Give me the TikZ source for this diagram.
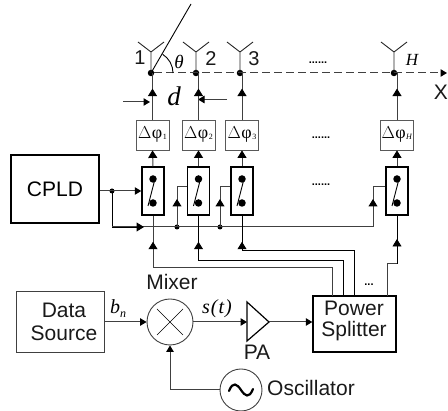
\documentclass[tikz,border=0pt]{standalone}
\usepackage{fontspec}
\setmainfont{Liberation Sans}
\newfontfamily\serifface{Liberation Serif}
\usetikzlibrary{arrows.meta,decorations.markings,calc}
\definecolor{wire}{HTML}{404040}
\tikzset{
  x=1pt,y=-1pt,
  lab/.style={inner sep=0pt,font=\fontsize{21}{21}\selectfont,text=black!90},
  mathlab/.style={inner sep=0pt,font=\fontsize{20}{20}\selectfont\serifface\itshape},
  wireline/.style={draw=wire,line width=1pt},
  blackline/.style={draw=black,line width=.9pt},
  head/.style={-{Triangle[length=6.5pt,width=7.5pt,color=black]}},
  bighead/.style={-{Triangle[length=7.5pt,width=9pt,color=black]}},
  midhead/.style={postaction={decorate},decoration={markings,mark=at position #1 with {\arrow{Triangle[length=7.5pt,width=9pt,color=black]}}}},
  dot/.style={circle,fill=black,inner sep=0pt,minimum size=#1},
  switchbox/.style={draw=black,line width=1.5pt,minimum width=22pt,minimum height=48pt,inner sep=0pt},
  phibox/.style={draw=black!65,line width=.8pt,minimum width=33pt,minimum height=30pt,inner sep=0pt,font=\fontsize{16}{16}\selectfont\serifface},
  blockthin/.style={draw=wire,line width=.9pt,inner sep=0pt},
  blockthick/.style={draw=black,line width=1.4pt,inner sep=0pt},
  antenna/.style={draw=black!85,line width=.9pt},
  dotlab/.style={inner sep=0pt,font=\bfseries\fontsize{11}{11}\selectfont},
}
\newcommand{\phisub}[1]{$\Delta$\kern.3pt{\fontsize{18}{18}\selectfont φ}\kern.5pt\raisebox{-.5pt}{\fontsize{8}{8}\selectfont #1}}
\begin{document}
\begin{tikzpicture}
\useasboundingbox (0,0) rectangle (448,411);
% junctions on the array axis
\node[dot=6.5pt] (j1) at (151,73) {};
\node[dot=6.5pt] (j2) at (196,73) {};
\node[dot=6.5pt] (j3) at (240,73) {};
\node[dot=6.5pt] (j4) at (394,73) {};
\coordinate (axisend) at (447,73);
\draw[wire,line width=1pt,dashed,dash pattern=on 8pt off 4pt,head] (j1) -- (axisend);
\coordinate (ray) at (191,4);
\draw[blackline] (j1.center) -- (ray);
\draw[blackline] ($(j1)+(22,0)$) arc[start angle=0,end angle=-58,radius=22];
% antennas
\foreach \j in {j1,j2,j3,j4}{
  \draw[antenna] (\j.center) -- ++(0,-21) ++(-13,-10) -- ++(13,10) -- ++(13,-10);
}
\node[lab,font=\fontsize{20}{20}\selectfont] (n1) at (140,58) {1};
\node[lab,font=\fontsize{20}{20}\selectfont] (n2) at (211,59) {2};
\node[lab,font=\fontsize{20}{20}\selectfont] (n3) at (254,59) {3};
\node[mathlab,font=\fontsize{17}{17}\selectfont\serifface\itshape] (nH) at (412,60) {H};
\node[mathlab,font=\fontsize{19}{19}\selectfont\serifface\itshape] (theta) at (179,62) {θ};
\node[mathlab,font=\fontsize{27}{27}\selectfont\serifface\itshape] (dlab) at (174,96) {d};
\node[lab] (xlab) at (441,92) {X};
\node[dotlab] (dotsA) at (318,63) {......};
\node[dotlab] (dotsB) at (321,138) {......};
\node[dotlab] (dotsC) at (321,185) {......};
% spacing arrows
\coordinate (dl0) at (123,102); \coordinate (dl1) at (150,102);
\coordinate (dr0) at (227,99.5); \coordinate (dr1) at (198,99.5);
\draw[wireline,head] (dl0) -- (dl1);
\draw[wireline,head] (dr0) -- (dr1);
% phase shifters
\node[phibox] (p1) at (152.5,135) {\phisub{1}};
\node[phibox] (p2) at (198.5,135) {\phisub{2}};
\node[phibox] (p3) at (242,135) {\phisub{3}};
\node[phibox] (p4) at (397,135) {\phisub{\textit{H}}};
\draw[wireline,midhead=31pt] (p1.north) -- (p1.north |- j1);
\draw[wireline,midhead=31pt] (p2.north) -- (p2.north |- j2);
\draw[wireline,midhead=31pt] (p3.north) -- (p3.north |- j3);
\draw[wireline,midhead=31pt] (p4.north) -- (p4.north |- j4);
% switches
\foreach \n/\x in {s1/153,s2/198.5,s3/242,s4/397}{
  \node[switchbox] (\n) at (\x,191) {};
  \node[dot=7.5pt] (\n u) at (\x,179) {};
  \node[dot=7.5pt] (\n d) at (\x,203) {};
  \draw[black,line width=.9pt] ($(\n d)+(-5,3)$) -- ($(\n u)+(2.5,-2)$);
}
\draw[wireline,bighead] (s1.north) -- (p1.south);
\draw[wireline,bighead] (s2.north) -- (p2.south);
\draw[wireline,bighead] (s3.north) -- (p3.south);
\draw[wireline,bighead] (s4.north) -- (p4.south);
% CPLD and control bus
\node[blockthick,minimum width=88pt,minimum height=68pt,font=\fontsize{21}{21}\selectfont] (cpld) at (55,189) {CPLD};
\coordinate (cout) at (cpld.east |- 0,191);
\coordinate (sin) at (s1.west |- 0,191);
\node[dot=5pt] (c0) at (112,191) {};
\node[dot=5pt] (b2) at (177,227) {};
\node[dot=5pt] (b3) at (220,227) {};
\coordinate (bus) at (112,227);
\coordinate (busarrow) at (143,227);
\coordinate (busend) at (373,227);
\draw[wireline,head] (cout) -- (sin);
\draw[blackline] (c0.center) -- (bus) -- (busarrow);
\draw[wireline,midhead=32pt] (bus) -- (busend);
\draw[wireline,midhead=28pt] (b2.center) -- (177,187) -- (s2.west |- 0,187);
\draw[wireline,midhead=28pt] (b3.center) -- (220,187) -- (s3.west |- 0,187);
\draw[wireline,midhead=28pt] (busend) -- (373,187) -- (s4.west |- 0,187);
% power splitter
\node[blockthick,minimum width=83pt,minimum height=56pt] (split) at (354.5,324) {};
\node[lab] (power) at (354,308) {Power};
\node[lab] (splitter) at (354,331) {Splitter};
\coordinate (o1) at (332,296); \coordinate (o2) at (343,296); \coordinate (o3) at (354,296); \coordinate (o4) at (387,296);
\draw[wireline,midhead=-26pt] (o1) -- (332,268) -- (153,268) -- (s1.south);
\draw[blackline,midhead=-26pt] (o2) -- (343,260) -- (198.5,260) -- (s2.south);
\draw[blackline,midhead=-26pt] (o3) -- (354,250) -- (242,250) -- (s3.south);
\draw[wireline] (o4) -- (387,264) -- (397,264);
\draw[blackline,midhead=25pt] (397,264) -- (s4.south);
\node[dotlab] (dotsD) at (369,285) {...};
% bottom chain
\node[blockthin,minimum width=88pt,minimum height=61pt] (data) at (60,321.5) {};
\node[lab] (dataA) at (64,310) {Data};
\node[lab] (dataB) at (64,333) {Source};
\node[circle,blockthin,minimum size=46pt] (mix) at (170,322) {};
\draw[black,line width=.7pt] (157,309) -- (183,335) (157,335) -- (183,309);
\node[lab] (mixlab) at (172,282) {Mixer};
\node[mathlab] (bn) at (118,309) {b\raisebox{-4pt}{\fontsize{12}{12}\selectfont n}};
\node[mathlab] (st) at (217,309) {s\kern1pt({\kern1pt}t{\kern1pt})};
\draw[wireline,head] (data.east |- mix) -- (mix.west);
\coordinate (pa1) at (247,302); \coordinate (pa2) at (247,341); \coordinate (pa3) at (269,322);
\coordinate (pain) at (247,322);
\draw[blackline,line width=1.2pt] (pa1) -- (pa2) -- (pa3) -- cycle;
\draw[wireline,head] (mix.east) -- (pain);
\draw[wireline,head] (pa3) -- (split.west |- pa3);
\node[lab] (palab) at (257,352) {PA};
\node[circle,blockthin,minimum size=42pt] (osc) at (241,390) {};
\draw[black,line width=2.2pt,line cap=round] (229,391) .. controls (233,381) and (237,384) .. (241,390) .. controls (245,396) and (249,399) .. (253,389);
\node[lab] (osclab) at (311,388) {Oscillator};
\draw[wireline,head] (osc.west) -- (170,390) -- (mix.south);
\end{tikzpicture}
\end{document}
